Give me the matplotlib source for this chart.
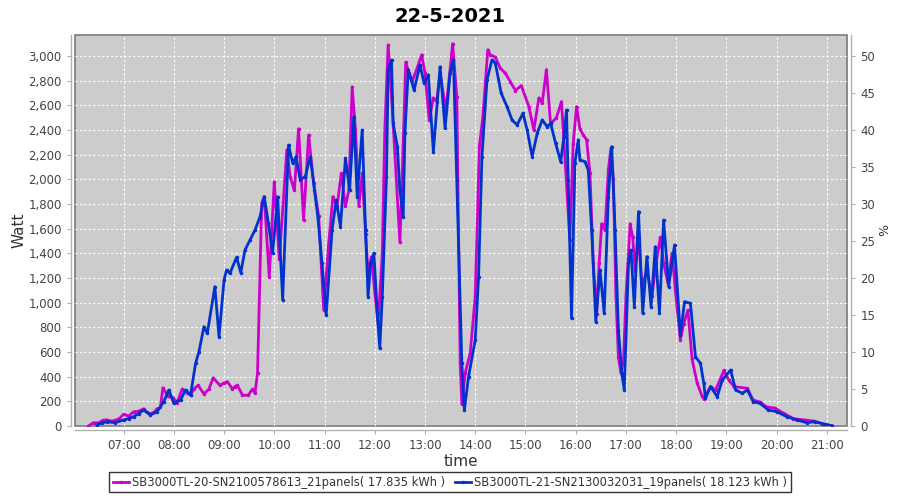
import matplotlib
matplotlib.use('Agg')
import matplotlib.pyplot as plt
from matplotlib.ticker import FuncFormatter, MultipleLocator

title = '22-5-2021'
name_a = 'SB3000TL-20-SN2100578613_21panels( 17.835 kWh )'
name_b = 'SB3000TL-21-SN2130032031_19panels( 18.123 kWh )'

# SB3000TL-20 (magenta)
times_a = ['06:18', '06:24', '06:30', '06:35', '06:40', '06:45', '06:50', '06:55', '07:00', '07:06',
           '07:12', '07:18', '07:24', '07:28', '07:32', '07:36', '07:40', '07:44', '07:47', '07:53',
           '07:59', '08:04', '08:10', '08:16', '08:20', '08:24', '08:29', '08:36', '08:42', '08:47',
           '08:55', '09:00', '09:04', '09:10', '09:13', '09:16', '09:22', '09:29', '09:34', '09:37',
           '09:40', '09:45', '09:48', '09:54', '10:00', '10:06', '10:15', '10:19', '10:24', '10:29',
           '10:35', '10:41', '10:47', '10:53', '10:59', '11:05', '11:10', '11:15', '11:20', '11:25',
           '11:29', '11:33', '11:37', '11:41', '11:45', '11:49', '11:52', '11:56', '12:00', '12:04',
           '12:09', '12:12', '12:16', '12:20', '12:24', '12:30', '12:33', '12:37', '12:41', '12:45',
           '12:50', '12:56', '13:00', '13:05', '13:10', '13:14', '13:18', '13:25', '13:33', '13:38',
           '13:42', '13:44', '13:48', '13:54', '14:00', '14:05', '14:09', '14:15', '14:18', '14:24',
           '14:30', '14:36', '14:42', '14:48', '14:55', '15:04', '15:10', '15:16', '15:20', '15:25',
           '15:30', '15:37', '15:43', '15:48', '15:53', '15:57', '16:01', '16:05', '16:09', '16:13',
           '16:17', '16:21', '16:25', '16:28', '16:31', '16:35', '16:39', '16:42', '16:45', '16:48',
           '16:51', '16:54', '16:57', '17:00', '17:05', '17:08', '17:11', '17:15', '17:19', '17:25',
           '17:31', '17:36', '17:41', '17:45', '17:50', '17:55', '17:59', '18:05', '18:09', '18:14',
           '18:19', '18:25', '18:31', '18:33', '18:41', '18:47', '18:57', '19:03', '19:09', '19:25',
           '19:32', '19:40', '19:48', '19:58', '20:08', '20:20', '20:32', '20:44', '20:54', '21:06']
watt_a = [0, 27, 25, 45, 50, 40, 45, 60, 95, 80,
          115, 120, 140, 110, 100, 110, 140, 150, 310, 240,
          230, 190, 300, 270, 250, 300, 330, 260, 300, 390,
          330, 350, 360, 300, 320, 330, 250, 250, 300, 265,
          430, 1810, 1860, 1210, 1980, 1350, 2240, 2020, 1910, 2410,
          1670, 2360, 1970, 1700, 940, 1480, 1860, 1780, 2050, 1780,
          1910, 2750, 2400, 1780, 2050, 1560, 1240, 1370, 1080, 830,
          1400, 2400, 3090, 2670, 2210, 1490, 2080, 2950, 2860, 2800,
          2890, 3010, 2860, 2480, 2660, 2630, 2860, 2560, 3100, 2670,
          510, 180, 430, 590, 1050, 2270, 2500, 3050, 3010, 2990,
          2900, 2860, 2790, 2720, 2760, 2590, 2400, 2660, 2620, 2890,
          2450, 2500, 2630, 2080, 1510, 2290, 2590, 2410, 2360, 2320,
          2050, 1320, 910, 1320, 1640, 1590, 2080, 2250, 2000, 1050,
          560, 430, 530, 1050, 1640, 1530, 1260, 1530, 1130, 1260,
          1050, 1320, 1530, 1320, 1160, 1400, 1100, 700, 830, 940,
          540, 350, 240, 220, 320, 290, 450, 370, 320, 305,
          210, 195, 155, 145, 105, 60, 50, 40, 20, 0]

# SB3000TL-21 (blue)
times_b = ['06:28', '06:34', '06:40', '06:50', '07:00', '07:06', '07:12', '07:18', '07:24', '07:32',
           '07:40', '07:48', '07:54', '08:00', '08:08', '08:14', '08:20', '08:26', '08:30', '08:36',
           '08:40', '08:49', '08:54', '09:00', '09:03', '09:07', '09:15', '09:20', '09:25', '09:31',
           '09:37', '09:43', '09:48', '09:53', '09:58', '10:04', '10:10', '10:17', '10:22', '10:26',
           '10:31', '10:37', '10:43', '10:48', '10:52', '10:57', '11:02', '11:09', '11:14', '11:19',
           '11:25', '11:30', '11:35', '11:39', '11:45', '11:49', '11:52', '11:55', '11:59', '12:03',
           '12:06', '12:09', '12:14', '12:16', '12:20', '12:22', '12:27', '12:30', '12:34', '12:36',
           '12:40', '12:47', '12:54', '12:59', '13:04', '13:10', '13:18', '13:24', '13:30', '13:34',
           '13:38', '13:44', '13:47', '13:52', '14:00', '14:04', '14:08', '14:14', '14:20', '14:24',
           '14:31', '14:38', '14:44', '14:50', '14:57', '15:02', '15:08', '15:14', '15:20', '15:26',
           '15:30', '15:36', '15:42', '15:46', '15:49', '15:51', '15:55', '15:59', '16:03', '16:05',
           '16:11', '16:15', '16:19', '16:24', '16:29', '16:34', '16:39', '16:43', '16:47', '16:51',
           '16:55', '16:58', '17:03', '17:06', '17:10', '17:15', '17:20', '17:25', '17:30', '17:35',
           '17:40', '17:45', '17:51', '17:58', '18:05', '18:10', '18:17', '18:23', '18:29', '18:33',
           '18:35', '18:41', '18:49', '18:55', '19:05', '19:11', '19:19', '19:25', '19:32', '19:40',
           '19:50', '20:00', '20:12', '20:24', '20:36', '20:46', '20:56', '21:06']
watt_b = [8, 25, 35, 27, 49, 60, 76, 100, 130, 89,
          116, 197, 292, 184, 211, 292, 251, 508, 602, 805,
          751, 1130, 724, 1184, 1265, 1238, 1368, 1243, 1427, 1508,
          1589, 1697, 1859, 1643, 1403, 1859, 1022, 2278, 2130, 2184,
          1995, 2022, 2184, 1914, 1697, 1319, 900, 1589, 1832, 1616,
          2170, 1913, 2508, 1859, 2400, 1589, 1049, 1319, 1400, 914,
          630, 1049, 2022, 2886, 2968, 2454, 2265, 1913, 1697, 2373,
          2886, 2724, 2927, 2778, 2846, 2224, 2913, 2413, 2860, 2968,
          1995, 508, 130, 400, 697, 1211, 2184, 2805, 2968, 2941,
          2698, 2589, 2481, 2441, 2535, 2400, 2184, 2373, 2481, 2427,
          2454, 2292, 2143, 2346, 2562, 1995, 873, 2130, 2319, 2157,
          2143, 2076, 1589, 846, 1265, 914, 1859, 2265, 1589, 778,
          427, 292, 1319, 1427, 967, 1738, 914, 1373, 967, 1454,
          914, 1670, 1130, 1468, 738, 1008, 995, 562, 508, 346,
          224, 319, 238, 373, 454, 292, 265, 292, 197, 184,
          130, 116, 76, 49, 27, 35, 16, 3]

hour_labels = ['07:00', '08:00', '09:00', '10:00', '11:00', '12:00', '13:00', '14:00',
               '15:00', '16:00', '17:00', '18:00', '19:00', '20:00', '21:00']


def to_min(s):
    h, m = s.split(':')
    return int(h) * 60 + int(m)


xa = [to_min(t) for t in times_a]
xb = [to_min(t) for t in times_b]

plt.rcParams['font.family'] = 'DejaVu Sans'

fig = plt.figure(figsize=(9, 5), dpi=100)
ax = fig.add_axes([75 / 900, 1 - 426 / 500, 772 / 900, 391 / 500])
ax.set_facecolor('#cccccc')
ax.patch.set_edgecolor('#7a7a7a')
ax.patch.set_linewidth(1.2)

ax.plot(xa, watt_a, color='#cc00cc', lw=2, marker='o', ms=1.5, label=name_a, zorder=3)
ax.plot(xb, watt_b, color='#0033cc', lw=2, marker='o', ms=1.5, label=name_b, zorder=4)

ax.set_xlim(362, 1284)
ax.set_ylim(0, 3170)
ax.set_xticks([to_min(t) for t in hour_labels])
ax.set_xticklabels(hour_labels)
ax.yaxis.set_major_locator(MultipleLocator(200))
ax.yaxis.set_major_formatter(FuncFormatter(lambda v, p: f'{int(v):,}'))
ax.grid(True, color='white', linestyle=(0, (2, 2)), linewidth=0.8)
ax.set_axisbelow(True)

ax2 = ax.twinx()
ax2.set_ylim(0, 3170 / 60)
ax2.yaxis.set_major_locator(MultipleLocator(5))

for a in (ax, ax2):
    for s in a.spines.values():
        s.set_visible(False)
ax.spines['left'].set_visible(True)
ax.spines['bottom'].set_visible(True)
ax2.spines['right'].set_visible(True)
ax.spines['left'].set_position(('outward', 3))
ax.spines['bottom'].set_position(('outward', 3))
ax2.spines['right'].set_position(('outward', 3))
for s in (ax.spines['left'], ax.spines['bottom'], ax2.spines['right']):
    s.set_color('#b0b0b0')
    s.set_linewidth(1)

ax.tick_params(axis='both', colors='#b0b0b0', labelcolor='#444444', labelsize=8.5, length=3)
ax2.tick_params(axis='y', colors='#b0b0b0', labelcolor='#444444', labelsize=8.5, length=3)

ax.set_ylabel('Watt', fontsize=11, color='#333333', labelpad=1)
ax.set_xlabel('time', fontsize=11, color='#333333', labelpad=1)
ax2.set_ylabel('%', fontsize=9, color='#333333', labelpad=2)

fig.suptitle(title, fontsize=14, fontweight='bold', x=0.5, y=0.985)

h1, l1 = ax.get_legend_handles_labels()
leg = fig.legend(h1, l1, loc='lower center', bbox_to_anchor=(0.5, 0.004), ncol=2,
                 fontsize=8.3, frameon=True, fancybox=False, edgecolor='black',
                 handlelength=1.4, handletextpad=0.3, columnspacing=0.8, borderpad=0.3)
leg.get_frame().set_linewidth(1)
for t in leg.get_texts():
    t.set_color('#333333')

fig.savefig('out.png', dpi=100)
